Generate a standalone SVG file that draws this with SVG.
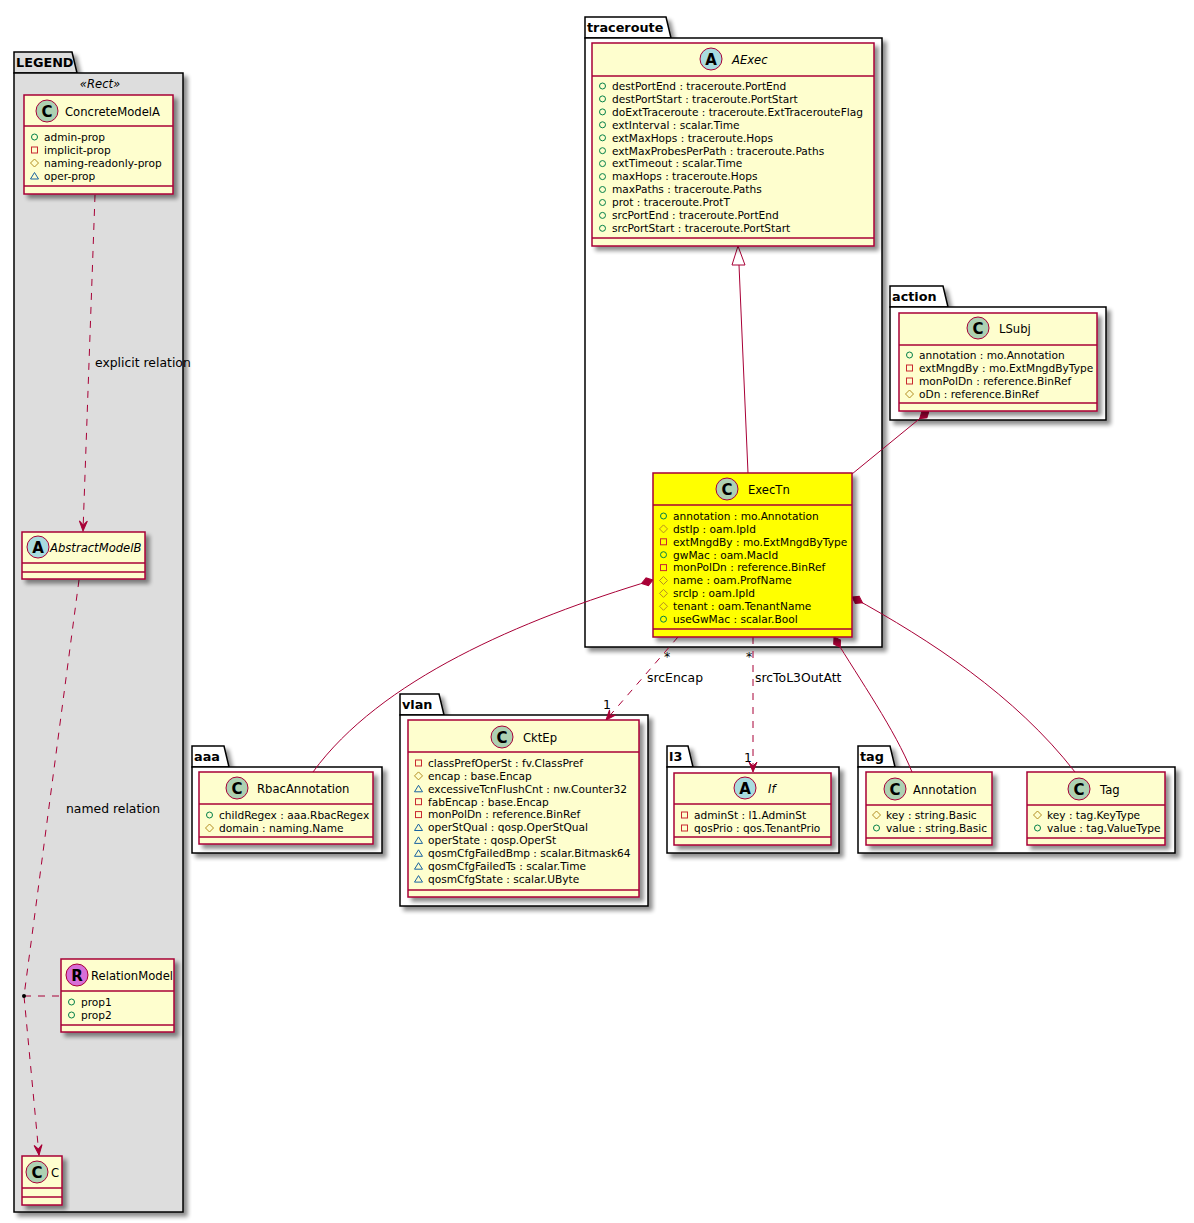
<svg xmlns="http://www.w3.org/2000/svg" xmlns:xlink="http://www.w3.org/1999/xlink" width="1194" height="1223" viewBox="0 0 1194 1223">
<defs>
<style>
text{font-family:"DejaVu Sans","Liberation Sans",sans-serif;fill:#000}
.pkg{fill:#FFFFFF;stroke:#000;stroke-width:1.5}
.leg{fill:#DDDDDD;stroke:#000;stroke-width:1.5}
.plab{font-size:12.8px;font-weight:bold}
.box{fill:#FEFECE;stroke:#A80036;stroke-width:1.5}
.hl{fill:#FFFF00;stroke:#A80036;stroke-width:1.5}
.div{stroke:#A80036;stroke-width:1.5}
.name{font-size:11.6px}
.it{font-style:italic}
.attr{font-size:10.6px}
.spot{stroke:#A80036;stroke-width:1}
.sc{fill:#ADD1B2}
.sa{fill:#A9DCDF}
.sr{fill:#D76FD8}
.sl{font-size:15px;font-weight:bold;text-anchor:middle}
.ln{fill:none;stroke:#A80036;stroke-width:1}
.dash{stroke-dasharray:7,7}
.lbl{font-size:12.4px}
</style>
<filter id="sh" x="-10%" y="-10%" width="130%" height="130%">
<feGaussianBlur in="SourceAlpha" stdDeviation="2"/>
<feOffset dx="4" dy="4" result="o"/>
<feComponentTransfer><feFuncA type="linear" slope="0.45"/></feComponentTransfer>
<feMerge><feMergeNode/><feMergeNode in="SourceGraphic"/></feMerge>
</filter>
<g id="pub"><circle r="3" fill="none" stroke="#038048" stroke-width="1"/></g>
<g id="priv"><rect x="-3" y="-3" width="6" height="6" fill="none" stroke="#C82930" stroke-width="1"/></g>
<g id="prot"><polygon points="0,-4 4,0 0,4 -4,0" fill="none" stroke="#B38D22" stroke-width="1"/></g>
<g id="pkgv"><polygon points="0,-3.5 4,3 -4,3" fill="none" stroke="#1963A0" stroke-width="1"/></g>
<marker id="dia" markerUnits="userSpaceOnUse" markerWidth="14" markerHeight="10" refX="0" refY="5" viewBox="0 0 14 10" orient="auto">
<path d="M0,5 L6,1 L12,5 L6,9 Z" fill="#A80036" stroke="#A80036"/>
</marker>
<marker id="arr" markerUnits="userSpaceOnUse" markerWidth="12" markerHeight="10" refX="11" refY="5" viewBox="0 0 12 10" orient="auto">
<path d="M11,5 L1,1 L5,5 L1,9 Z" fill="#A80036" stroke="#A80036" stroke-width="1"/>
</marker>
</defs>
<rect width="1194" height="1223" fill="#FFFFFF"/>

<!-- packages -->
<g id="pkg-legend" filter="url(#sh)">
<path class="leg" d="M14,73 L14,52 L72,52 L77,73 Z"/>
<rect class="leg" x="14" y="73" width="169" height="1139"/>
</g>
<text class="plab" x="16" y="67">LEGEND</text>
<text class="name it" x="100" y="88" text-anchor="middle">«Rect»</text>

<g id="pkg-traceroute" filter="url(#sh)">
<path class="pkg" d="M585,38 L585,17 L666,17 L671,38 Z"/>
<rect class="pkg" x="585" y="38" width="297" height="609"/>
</g>
<text class="plab" x="587" y="32">traceroute</text>

<g id="pkg-action" filter="url(#sh)">
<path class="pkg" d="M890,307 L890,286 L943,286 L948,307 Z"/>
<rect class="pkg" x="890" y="307" width="216" height="113"/>
</g>
<text class="plab" x="892" y="301">action</text>

<g id="pkg-aaa" filter="url(#sh)">
<path class="pkg" d="M192,767 L192,746 L224,746 L229,767 Z"/>
<rect class="pkg" x="192" y="767" width="190" height="86"/>
</g>
<text class="plab" x="194" y="761">aaa</text>

<g id="pkg-vlan" filter="url(#sh)">
<path class="pkg" d="M400,715 L400,694 L439,694 L444,715 Z"/>
<rect class="pkg" x="400" y="715" width="248" height="191"/>
</g>
<text class="plab" x="402" y="709">vlan</text>

<g id="pkg-l3" filter="url(#sh)">
<path class="pkg" d="M667,767 L667,746 L688,746 L693,767 Z"/>
<rect class="pkg" x="667" y="767" width="172" height="86"/>
</g>
<text class="plab" x="669" y="761">l3</text>

<g id="pkg-tag" filter="url(#sh)">
<path class="pkg" d="M858,767 L858,746 L890,746 L895,767 Z"/>
<rect class="pkg" x="858" y="767" width="317" height="86"/>
</g>
<text class="plab" x="860" y="761">tag</text>

<!-- connectors -->
<g id="connectors">
<path class="ln dash" d="M95,195 L83,531" marker-end="url(#arr)"/>
<text class="lbl" x="95" y="367">explicit relation</text>
<path class="ln dash" d="M79,580 L24,996 L39,1155" marker-end="url(#arr)"/>
<text class="lbl" x="66" y="813">named relation</text>
<path class="ln dash" d="M24,996 L61,996"/>
<circle cx="24" cy="996" r="2" fill="#000"/>

<path class="ln" d="M739,265 L748,473"/>
<polygon points="738,246 745,265 732,265" fill="#FFFFFF" stroke="#A80036" stroke-width="1"/>
<path class="ln" d="M929,411 L852,474" marker-start="url(#dia)"/>
<path class="ln" d="M653,580 C520,620 380,680 313,772" marker-start="url(#dia)"/>
<path class="ln" d="M852,597 C930,640 1015,695 1075,772" marker-start="url(#dia)"/>
<path class="ln" d="M834,637 C860,680 895,730 912,772" marker-start="url(#dia)"/>
<path class="ln dash" d="M678,637 L606,720" marker-end="url(#arr)"/>
<text class="lbl" x="664" y="661">*</text>
<text class="lbl" x="603" y="709">1</text>
<text class="lbl" x="647" y="682">srcEncap</text>
<path class="ln dash" d="M753,637 L753,772" marker-end="url(#arr)"/>
<text class="lbl" x="746" y="661">*</text>
<text class="lbl" x="744" y="762">1</text>
<text class="lbl" x="755" y="682">srcToL3OutAtt</text>
</g>

<!-- LEGEND classes -->
<g id="ConcreteModelA">
<rect class="box" x="24" y="95" width="149" height="99" filter="url(#sh)"/>
<line class="div" x1="24" y1="126" x2="173" y2="126"/>
<line class="div" x1="24" y1="186" x2="173" y2="186"/>
<circle class="spot sc" cx="47" cy="111" r="11"/><text class="sl" x="47" y="116.5">C</text>
<text class="name" x="65" y="115.5">ConcreteModelA</text>
<use href="#pub" x="34.5" y="137"/><text class="attr" x="44" y="141">admin-prop</text>
<use href="#priv" x="34.5" y="150"/><text class="attr" x="44" y="154">implicit-prop</text>
<use href="#prot" x="34.5" y="163"/><text class="attr" x="44" y="167">naming-readonly-prop</text>
<use href="#pkgv" x="34.5" y="176"/><text class="attr" x="44" y="180">oper-prop</text>
</g>

<g id="AbstractModelB">
<rect class="box" x="22" y="532" width="123" height="47" filter="url(#sh)"/>
<line class="div" x1="22" y1="563" x2="145" y2="563"/>
<line class="div" x1="22" y1="572" x2="145" y2="572"/>
<circle class="spot sa" cx="38" cy="547" r="11"/><text class="sl" x="38" y="552.5">A</text>
<text class="name it" x="50" y="551.5">AbstractModelB</text>
</g>

<g id="RelationModel">
<rect class="box" x="61" y="959" width="113" height="73" filter="url(#sh)"/>
<line class="div" x1="61" y1="991" x2="174" y2="991"/>
<line class="div" x1="61" y1="1025" x2="174" y2="1025"/>
<circle class="spot sr" cx="77" cy="975" r="11"/><text class="sl" x="77" y="980.5">R</text>
<text class="name" x="91" y="979.5">RelationModel</text>
<use href="#pub" x="71.5" y="1002"/><text class="attr" x="81" y="1006">prop1</text>
<use href="#pub" x="71.5" y="1015"/><text class="attr" x="81" y="1019">prop2</text>
</g>

<g id="C">
<rect class="box" x="22" y="1156" width="40" height="49" filter="url(#sh)"/>
<line class="div" x1="22" y1="1188" x2="62" y2="1188"/>
<line class="div" x1="22" y1="1197" x2="62" y2="1197"/>
<circle class="spot sc" cx="37" cy="1172" r="11"/><text class="sl" x="37" y="1177.5">C</text>
<text class="name" x="51" y="1176.5">C</text>
</g>

<!-- traceroute -->
<g id="AExec">
<rect class="box" x="592" y="43" width="282" height="203" filter="url(#sh)"/>
<line class="div" x1="592" y1="76" x2="874" y2="76"/>
<line class="div" x1="592" y1="238" x2="874" y2="238"/>
<circle class="spot sa" cx="711" cy="59" r="11"/><text class="sl" x="711" y="64.5">A</text>
<text class="name it" x="732" y="63.5">AExec</text>
<use href="#pub" x="602.5" y="86"/><text class="attr" x="612" y="89.8">destPortEnd : traceroute.PortEnd</text>
<use href="#pub" x="602.5" y="98.9"/><text class="attr" x="612" y="102.7">destPortStart : traceroute.PortStart</text>
<use href="#pub" x="602.5" y="111.9"/><text class="attr" x="612" y="115.7">doExtTraceroute : traceroute.ExtTracerouteFlag</text>
<use href="#pub" x="602.5" y="124.8"/><text class="attr" x="612" y="128.6">extInterval : scalar.Time</text>
<use href="#pub" x="602.5" y="137.8"/><text class="attr" x="612" y="141.6">extMaxHops : traceroute.Hops</text>
<use href="#pub" x="602.5" y="150.7"/><text class="attr" x="612" y="154.5">extMaxProbesPerPath : traceroute.Paths</text>
<use href="#pub" x="602.5" y="163.6"/><text class="attr" x="612" y="167.4">extTimeout : scalar.Time</text>
<use href="#pub" x="602.5" y="176.6"/><text class="attr" x="612" y="180.4">maxHops : traceroute.Hops</text>
<use href="#pub" x="602.5" y="189.5"/><text class="attr" x="612" y="193.3">maxPaths : traceroute.Paths</text>
<use href="#pub" x="602.5" y="202.5"/><text class="attr" x="612" y="206.3">prot : traceroute.ProtT</text>
<use href="#pub" x="602.5" y="215.4"/><text class="attr" x="612" y="219.2">srcPortEnd : traceroute.PortEnd</text>
<use href="#pub" x="602.5" y="228.3"/><text class="attr" x="612" y="232.1">srcPortStart : traceroute.PortStart</text>
</g>

<g id="ExecTn">
<rect class="hl" x="653" y="473" width="199" height="164" filter="url(#sh)"/>
<line class="div" x1="653" y1="505" x2="852" y2="505"/>
<line class="div" x1="653" y1="629" x2="852" y2="629"/>
<circle class="spot sc" cx="727" cy="489" r="11"/><text class="sl" x="727" y="494.5">C</text>
<text class="name" x="748" y="493.5">ExecTn</text>
<use href="#pub" x="663.5" y="516"/><text class="attr" x="673" y="519.8">annotation : mo.Annotation</text>
<use href="#prot" x="663.5" y="528.9"/><text class="attr" x="673" y="532.7">dstIp : oam.IpId</text>
<use href="#priv" x="663.5" y="541.8"/><text class="attr" x="673" y="545.6">extMngdBy : mo.ExtMngdByType</text>
<use href="#pub" x="663.5" y="554.7"/><text class="attr" x="673" y="558.5">gwMac : oam.MacId</text>
<use href="#priv" x="663.5" y="567.6"/><text class="attr" x="673" y="571.4">monPolDn : reference.BinRef</text>
<use href="#prot" x="663.5" y="580.5"/><text class="attr" x="673" y="584.3">name : oam.ProfName</text>
<use href="#prot" x="663.5" y="593.4"/><text class="attr" x="673" y="597.2">srcIp : oam.IpId</text>
<use href="#prot" x="663.5" y="606.3"/><text class="attr" x="673" y="610.1">tenant : oam.TenantName</text>
<use href="#pub" x="663.5" y="619.2"/><text class="attr" x="673" y="623">useGwMac : scalar.Bool</text>
</g>

<!-- action -->
<g id="LSubj">
<rect class="box" x="899" y="313" width="198" height="98" filter="url(#sh)"/>
<line class="div" x1="899" y1="345" x2="1097" y2="345"/>
<line class="div" x1="899" y1="403" x2="1097" y2="403"/>
<circle class="spot sc" cx="978" cy="328" r="11"/><text class="sl" x="978" y="333.5">C</text>
<text class="name" x="999" y="332.5">LSubj</text>
<use href="#pub" x="909.5" y="355"/><text class="attr" x="919" y="358.8">annotation : mo.Annotation</text>
<use href="#priv" x="909.5" y="368"/><text class="attr" x="919" y="371.8">extMngdBy : mo.ExtMngdByType</text>
<use href="#priv" x="909.5" y="381"/><text class="attr" x="919" y="384.8">monPolDn : reference.BinRef</text>
<use href="#prot" x="909.5" y="394"/><text class="attr" x="919" y="397.8">oDn : reference.BinRef</text>
</g>

<!-- aaa -->
<g id="RbacAnnotation">
<rect class="box" x="199" y="772" width="174" height="72" filter="url(#sh)"/>
<line class="div" x1="199" y1="804" x2="373" y2="804"/>
<line class="div" x1="199" y1="837" x2="373" y2="837"/>
<circle class="spot sc" cx="237" cy="788" r="11"/><text class="sl" x="237" y="793.5">C</text>
<text class="name" x="257" y="792.5">RbacAnnotation</text>
<use href="#pub" x="209.5" y="815"/><text class="attr" x="219" y="818.8">childRegex : aaa.RbacRegex</text>
<use href="#prot" x="209.5" y="828"/><text class="attr" x="219" y="831.8">domain : naming.Name</text>
</g>

<!-- vlan -->
<g id="CktEp">
<rect class="box" x="408" y="720" width="231" height="177" filter="url(#sh)"/>
<line class="div" x1="408" y1="752" x2="639" y2="752"/>
<line class="div" x1="408" y1="890" x2="639" y2="890"/>
<circle class="spot sc" cx="502" cy="737" r="11"/><text class="sl" x="502" y="742.5">C</text>
<text class="name" x="523" y="741.5">CktEp</text>
<use href="#priv" x="418.5" y="763"/><text class="attr" x="428" y="766.8">classPrefOperSt : fv.ClassPref</text>
<use href="#prot" x="418.5" y="775.9"/><text class="attr" x="428" y="779.7">encap : base.Encap</text>
<use href="#pkgv" x="418.5" y="788.8"/><text class="attr" x="428" y="792.6">excessiveTcnFlushCnt : nw.Counter32</text>
<use href="#priv" x="418.5" y="801.7"/><text class="attr" x="428" y="805.5">fabEncap : base.Encap</text>
<use href="#priv" x="418.5" y="814.6"/><text class="attr" x="428" y="818.4">monPolDn : reference.BinRef</text>
<use href="#pkgv" x="418.5" y="827.5"/><text class="attr" x="428" y="831.3">operStQual : qosp.OperStQual</text>
<use href="#pkgv" x="418.5" y="840.4"/><text class="attr" x="428" y="844.2">operState : qosp.OperSt</text>
<use href="#pkgv" x="418.5" y="853.3"/><text class="attr" x="428" y="857.1">qosmCfgFailedBmp : scalar.Bitmask64</text>
<use href="#pkgv" x="418.5" y="866.2"/><text class="attr" x="428" y="870">qosmCfgFailedTs : scalar.Time</text>
<use href="#pkgv" x="418.5" y="879.1"/><text class="attr" x="428" y="882.9">qosmCfgState : scalar.UByte</text>
</g>

<!-- l3 -->
<g id="If">
<rect class="box" x="674" y="773" width="157" height="72" filter="url(#sh)"/>
<line class="div" x1="674" y1="804" x2="831" y2="804"/>
<line class="div" x1="674" y1="837" x2="831" y2="837"/>
<circle class="spot sa" cx="745" cy="788" r="11"/><text class="sl" x="745" y="793.5">A</text>
<text class="name it" x="768" y="792.5">If</text>
<use href="#priv" x="684.5" y="815"/><text class="attr" x="694" y="818.8">adminSt : l1.AdminSt</text>
<use href="#priv" x="684.5" y="828"/><text class="attr" x="694" y="831.8">qosPrio : qos.TenantPrio</text>
</g>

<!-- tag -->
<g id="Annotation">
<rect class="box" x="866" y="772" width="126" height="73" filter="url(#sh)"/>
<line class="div" x1="866" y1="805" x2="992" y2="805"/>
<line class="div" x1="866" y1="838" x2="992" y2="838"/>
<circle class="spot sc" cx="895" cy="789" r="11"/><text class="sl" x="895" y="794.5">C</text>
<text class="name" x="913" y="793.5">Annotation</text>
<use href="#prot" x="876.5" y="815"/><text class="attr" x="886" y="818.8">key : string.Basic</text>
<use href="#pub" x="876.5" y="828"/><text class="attr" x="886" y="831.8">value : string.Basic</text>
</g>

<g id="Tag">
<rect class="box" x="1027" y="772" width="138" height="73" filter="url(#sh)"/>
<line class="div" x1="1027" y1="805" x2="1165" y2="805"/>
<line class="div" x1="1027" y1="838" x2="1165" y2="838"/>
<circle class="spot sc" cx="1079" cy="789" r="11"/><text class="sl" x="1079" y="794.5">C</text>
<text class="name" x="1100" y="793.5">Tag</text>
<use href="#prot" x="1037.5" y="815"/><text class="attr" x="1047" y="818.8">key : tag.KeyType</text>
<use href="#pub" x="1037.5" y="828"/><text class="attr" x="1047" y="831.8">value : tag.ValueType</text>
</g>
</svg>
